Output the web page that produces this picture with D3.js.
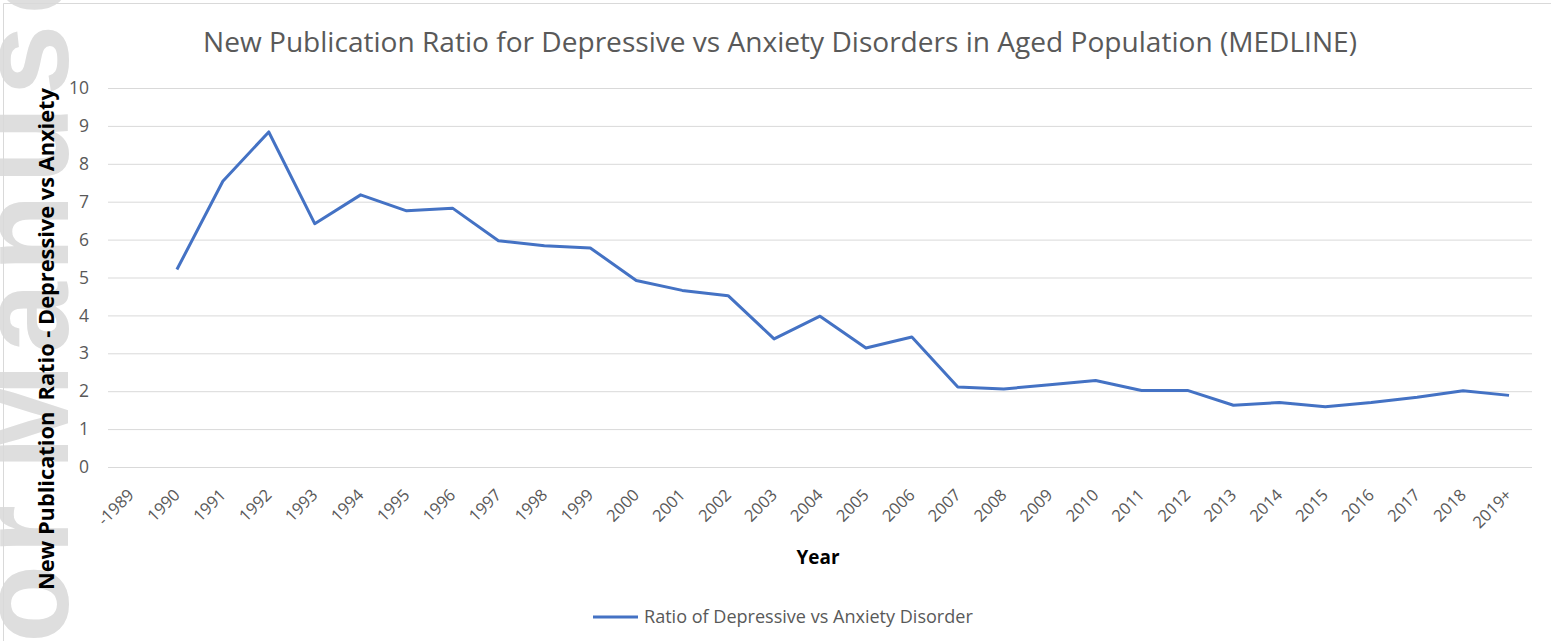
<!DOCTYPE html>
<html>
<head>
<meta charset="utf-8">
<script src="https://cdn.jsdelivr.net/npm/d3@7"></script>
<style>
  body { margin: 0; background: #fff; }
  svg { display: block; font-family: "Open Sans", "Noto Sans", sans-serif; }
</style>
</head>
<body>
<script>
// categories on the x axis
const categories = ["-1989", "1990", "1991", "1992", "1993", "1994", "1995", "1996", "1997", "1998",
  "1999", "2000", "2001", "2002", "2003", "2004", "2005", "2006", "2007", "2008", "2009",
  "2010", "2011", "2012", "2013", "2014", "2015", "2016", "2017", "2018", "2019+"]

// ratio of depressive vs anxiety publications (no value for -1989)
const ratios = [null, 5.21, 7.54, 8.84, 6.42, 7.18, 6.76, 6.83, 5.97, 5.84,
  5.78, 4.92, 4.66, 4.52, 3.38, 3.98, 3.14, 3.43, 2.11, 2.06, 2.17,
  2.28, 2.02, 2.02, 1.63, 1.70, 1.59, 1.70, 1.84, 2.01, 1.89]

const yTicks = [0, 1, 2, 3, 4, 5, 6, 7, 8, 9, 10]

const seriesName = "Ratio of Depressive vs Anxiety Disorder"
const title = "New Publication Ratio for Depressive vs Anxiety Disorders in Aged Population (MEDLINE)"

const W = 1551, H = 641
const margin = { top: 88, right: 19, bottom: 174, left: 108 }
const blue = "#4472C4", grey = "#595959", grid = "#d9d9d9"

const svg = d3.select("body").append("svg")
  .attr("width", W)
  .attr("height", H)

// scale a text's font size so that it takes the wanted width
function fitWidth(sel, w) {
  const cur = sel.node().getComputedTextLength()
  const fs = parseFloat(sel.attr("font-size"))
  sel.attr("font-size", (fs * w / cur).toFixed(2))
}

// faint "Author Manuscript" watermark down the left edge (cut by the page edge, as in the source)
const wm = svg.append("g")
  .attr("transform", "translate(68,470) rotate(-90)")
  .attr("fill", "#dedede")
  .attr("font-family", "Liberation Sans, Arial, sans-serif")
  .attr("font-weight", "bold")
  .attr("font-size", 128)
  .attr("letter-spacing", 10)
wm.append("text").attr("text-anchor", "start").text("Manuscript")
wm.append("text").attr("text-anchor", "end").attr("x", -25).text("Author")

// chart border (only top and left are in frame)
svg.append("path")
  .attr("d", "M3.5," + H + "V3.5H" + W)
  .attr("fill", "none")
  .attr("stroke", grid)

// scales
const x = d3.scaleBand()
  .domain(categories)
  .range([margin.left, W - margin.right])

const y = d3.scaleLinear()
  .domain([0, 10])
  .range([H - margin.bottom, margin.top])

// horizontal gridlines
svg.append("g")
  .attr("transform", "translate(" + margin.left + ",0)")
  .call(d3.axisLeft(y).tickValues(yTicks).tickSize(-(W - margin.right - margin.left)).tickFormat(""))
  .call(g => g.select(".domain").remove())
  .call(g => g.selectAll("line").attr("stroke", grid).attr("stroke-width", 1))

// y tick labels
svg.append("g")
  .attr("transform", "translate(89,0)")
  .call(d3.axisLeft(y).tickValues(yTicks).tickSize(0).tickPadding(0))
  .call(g => g.select(".domain").remove())
  .call(g => g.selectAll("text")
    .attr("fill", grey)
    .attr("font-size", 17.5)
    .attr("font-family", "Open Sans, sans-serif"))

// x tick labels, rotated
const xAxis = svg.append("g")
  .attr("transform", "translate(0," + (H - margin.bottom) + ")")
  .call(d3.axisBottom(x).tickSize(0))
xAxis.select(".domain").remove()
xAxis.selectAll("text")
  .attr("fill", grey)
  .attr("font-size", 16.5)
  .attr("font-family", "Open Sans, sans-serif")
  .attr("text-anchor", "end")
  .attr("dy", 0)
  .attr("y", 0)
  .attr("transform", "translate(4,29) rotate(-45)")

// the line
const line = d3.line()
  .defined(d => d != null)
  .x((d, i) => x(categories[i]) + x.bandwidth() / 2)
  .y(d => y(d))

svg.append("path")
  .datum(ratios)
  .attr("d", line)
  .attr("fill", "none")
  .attr("stroke", blue)
  .attr("stroke-width", 3)
  .attr("stroke-linejoin", "round")

// title
const t = svg.append("text")
  .attr("x", 780)
  .attr("y", 52)
  .attr("text-anchor", "middle")
  .attr("fill", grey)
  .attr("font-size", 24)
  .text(title)
fitWidth(t, 1154)

// y axis title
const yt = svg.append("text")
  .attr("transform", "translate(54,339) rotate(-90)")
  .attr("text-anchor", "middle")
  .attr("font-weight", "bold")
  .attr("fill", "#000")
  .attr("font-size", 18)
  .style("white-space", "pre")
  .text("New Publication  Ratio - Depressive vs Anxiety")
fitWidth(yt, 502)

// x axis title
const xt = svg.append("text")
  .attr("x", 818)
  .attr("y", 564)
  .attr("text-anchor", "middle")
  .attr("font-weight", "bold")
  .attr("fill", "#000")
  .attr("font-size", 18)
  .text("Year")
fitWidth(xt, 43)

// legend
svg.append("line")
  .attr("x1", 593).attr("x2", 638)
  .attr("y1", 617).attr("y2", 617)
  .attr("stroke", blue)
  .attr("stroke-width", 3)
const lt = svg.append("text")
  .attr("x", 644)
  .attr("y", 623)
  .attr("fill", grey)
  .attr("font-size", 17)
  .text(seriesName)
fitWidth(lt, 329)
</script>
</body>
</html>
